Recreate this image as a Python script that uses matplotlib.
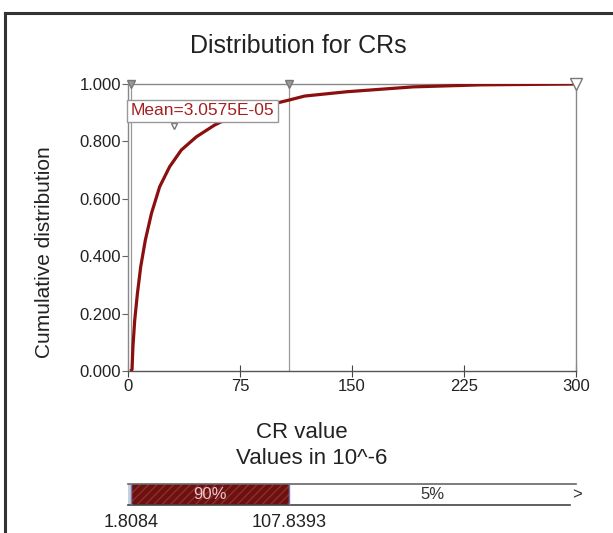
import matplotlib
matplotlib.use("Agg")
import matplotlib.pyplot as plt
from matplotlib.lines import Line2D

plt.rcParams['font.family'] = ['Liberation Sans', 'DejaVu Sans']

# ---- data ----
cr_values = [1.6, 2.7, 3.3, 4.5, 6.3, 8.5, 11.6, 15.7, 21.2, 27.9, 35.7, 45.8, 58.0,
             64.7, 85.0, 107.8, 118.3, 146.5, 191.0, 236.0, 300.0]
cum_prob = [0.0, 0.005, 0.084, 0.177, 0.270, 0.363, 0.456, 0.549, 0.642, 0.712, 0.770,
            0.816, 0.857, 0.874, 0.915, 0.944, 0.958, 0.973, 0.990, 0.997, 1.0]
x_ticks = [0, 75, 150, 225, 300]
y_ticks = [0.0, 0.2, 0.4, 0.6, 0.8, 1.0]
lower_bound = 1.8084
upper_bound = 107.8393
x_max = 300
mean_value = 30.575
mean_label = "Mean=3.0575E-05"
band_pcts = [5, 90, 5]
title = "Distribution for CRs"

W, H = 613, 533
fig = plt.figure(figsize=(W / 100, H / 100), dpi=100)
fig.patch.set_facecolor('white')

def fx(px):
    return px / W

def fy(py):
    return 1 - py / H

# outer frame
fig.add_artist(Line2D([fx(5), fx(613)], [fy(13), fy(13)], color='#333333', lw=2.2))
fig.add_artist(Line2D([fx(5), fx(5)], [fy(13), fy(533)], color='#333333', lw=2.2))

# main axes
ax = fig.add_axes([fx(128), fy(371), fx(576) - fx(128), fy(84) - fy(371)])
ax.set_xlim(0, x_max)
ax.set_ylim(0, 1.0)
for s in ['top', 'right', 'left']:
    ax.spines[s].set_color('#888888')
    ax.spines[s].set_linewidth(1.0)
ax.spines['bottom'].set_color('#555555')
ax.spines['bottom'].set_linewidth(1.0)

ax.axvline(lower_bound, color='#999999', lw=0.9)
ax.axvline(upper_bound, color='#999999', lw=0.9)

ax.plot(cr_values, cum_prob, color='#8b0f0f', lw=2.3, solid_capstyle='butt',
        solid_joinstyle='round', zorder=3)

# top triangle markers
ax.plot([lower_bound, upper_bound], [1.0, 1.0], marker='v', ls='none', ms=6,
        mfc='#999999', mec='#777777', clip_on=False, zorder=4)
ax.plot([x_max], [1.0], marker='v', ls='none', ms=8, mfc='white', mec='#777777',
        clip_on=False, zorder=4)
ax.plot([mean_value], [0.855], marker='v', ls='none', ms=5, mfc='white', mec='#777777',
        clip_on=False, zorder=4)

ax.text(0.166, 0.906, mean_label, transform=ax.transAxes, ha='center', va='center',
        fontsize=12.5, color='#a52020', zorder=5,
        bbox=dict(boxstyle='square,pad=0.2', fc='white', ec='#999999', lw=1.0))

ax.set_xticks(x_ticks)
ax.set_xticklabels([str(t) for t in x_ticks])
ax.set_yticks(y_ticks)
ax.set_yticklabels([f"{t:.3f}" for t in y_ticks])
ax.tick_params(axis='x', direction='inout', length=8, color='#444444', labelsize=12,
               pad=2, labelcolor='#222222')
ax.tick_params(axis='y', direction='out', length=4, color='#666666', labelsize=12,
               pad=1, labelcolor='#222222')

fig.text(fx(298), fy(46), title, ha='center', va='center', fontsize=18, color='#222222')
fig.text(fx(45), fy(252), "Cumulative distribution", ha='center', va='center',
         rotation=90, fontsize=15, color='#222222')
fig.text(fx(302), fy(432), "CR value", ha='center', va='center', fontsize=16, color='#222222')
fig.text(fx(312), fy(458), "Values in 10^-6", ha='center', va='center',
         fontsize=16, color='#222222')

# bottom band
bx = fig.add_axes([fx(128), fy(505), fx(576) - fx(128), fy(484) - fy(505)])
bx.set_xlim(0, x_max)
bx.set_ylim(0, 1)
bx.axis('off')
bx.barh(0.5, lower_bound, left=0, height=1.0, color='#c8d0dc', edgecolor='none')
bx.barh(0.5, upper_bound - lower_bound, left=lower_bound, height=1.0, color='#6e1010',
        edgecolor='#8a3030', hatch='////', lw=0)
bx.plot([0, x_max], [1, 1], color='#666666', lw=1.2, clip_on=False)
bx.plot([0, x_max - 4], [0, 0], color='#444444', lw=1.2, clip_on=False)
bx.plot([lower_bound, lower_bound], [0, 1], color='#7777aa', lw=1.0)
bx.plot([upper_bound, upper_bound], [0, 1], color='#7777aa', lw=1.0)
bx.text((lower_bound + upper_bound) / 2, 0.5, f"{band_pcts[1]}%", ha='center',
        va='center', fontsize=12, color='#e8c8c8')
bx.text((upper_bound + x_max) / 2, 0.5, f"{band_pcts[2]}%", ha='center', va='center',
        fontsize=12, color='#333333')
bx.text(x_max + 1, 0.5, ">", ha='center', va='center', fontsize=12, color='#333333',
        clip_on=False)
bx.text(lower_bound, -0.45, f"{lower_bound:.4f}", ha='center', va='top', fontsize=13,
        color='#222222')
bx.text(upper_bound, -0.45, f"{upper_bound:.4f}", ha='center', va='top', fontsize=13,
        color='#222222')

fig.savefig("out.png", dpi=100, facecolor='white')
